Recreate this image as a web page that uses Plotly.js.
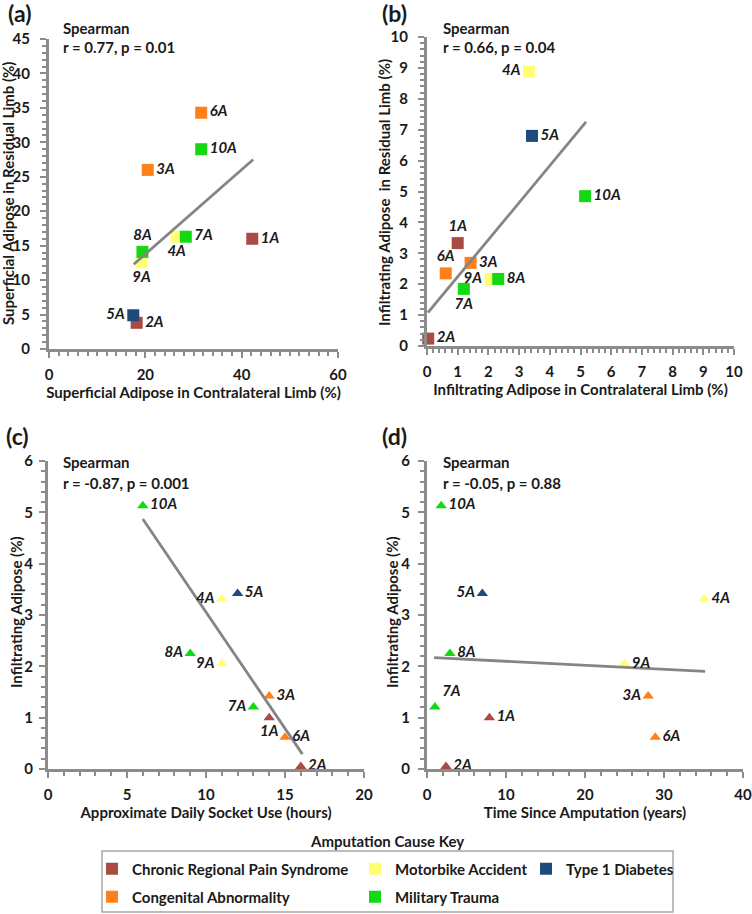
<!DOCTYPE html>
<html><head><meta charset="utf-8">
<script src="https://cdn.plot.ly/plotly-3.0.1.min.js"></script>
<style>html,body{margin:0;padding:0;background:#fff}#chart{width:752px;height:914px}</style>
</head><body><div id="chart"></div>
<script>
// ---------------- DATA ----------------
const subjects = ['1A','2A','3A','4A','5A','6A','7A','8A','9A','10A'];
const causes = ['Chronic Regional Pain Syndrome','Congenital Abnormality','Motorbike Accident','Military Trauma','Type 1 Diabetes'];
const subjectCause = ['Chronic Regional Pain Syndrome','Chronic Regional Pain Syndrome','Congenital Abnormality','Motorbike Accident','Type 1 Diabetes','Congenital Abnormality','Military Trauma','Military Trauma','Motorbike Accident','Military Trauma'];

// (a) superficial adipose (%)
const superficialContralateral = [42.2, 18.2, 20.5, 26.5, 17.5, 31.6, 28.4, 19.4, 19.2, 31.6];
const superficialResidual      = [16.0, 3.8, 26.0, 16.3, 4.9, 34.3, 16.3, 14.1, 12.6, 29.0];
// (b) infiltrating adipose (%)
const infiltratingContralateral = [1.0, 0.04, 1.42, 3.32, 3.42, 0.61, 1.2, 2.32, 2.07, 5.15];
const infiltratingResidual      = [3.33, 0.24, 2.69, 8.88, 6.80, 2.35, 1.85, 2.17, 2.17, 4.85];
// (c),(d)
const socketUseHours       = [14, 16, 14, 11, 12, 15, 13, 9, 11, 6];
const infiltratingAdipose  = [1.0, 0.05, 1.42, 3.31, 3.42, 0.62, 1.21, 2.25, 2.05, 5.13];
const yearsSinceAmputation = [7.9, 2.4, 28.0, 35.1, 7.0, 28.9, 1.0, 2.9, 25.0, 1.8];

// trend lines (end points)
const trendAx = [17.6, 42.4], trendAy = [12.3, 27.5];
const trendBx = [0.03, 5.18], trendBy = [1.08, 7.25];
const trendCx = [6.0, 16.1],  trendCy = [4.87, 0.29];
const trendDx = [0.9, 35.2],  trendDy = [2.17, 1.90];

const statsText = [
  ['Spearman', 'r = 0.77, p = 0.01'],
  ['Spearman', 'r = 0.66, p = 0.04'],
  ['Spearman', 'r = -0.87, p = 0.001'],
  ['Spearman', 'r = -0.05, p = 0.88']
];
const panelLetters = ['(a)','(b)','(c)','(d)'];
const axisTitles = [
  ['Superficial Adipose in Contralateral Limb (%)', 'Superficial Adipose in Residual Limb (%)'],
  ['Infiltrating Adipose in Contralateral Limb (%)', 'Infiltrating Adipose  in Residual Limb (%)'],
  ['Approximate Daily Socket Use (hours)', 'Infiltrating Adipose (%)'],
  ['Time Since Amputation (years)', 'Infiltrating Adipose (%)']
];
const legendTitle = 'Amputation Cause Key';

// ---------------- STYLE ----------------
const W = 752, H = 914;
const FONT = 'Lato, "Open Sans", sans-serif';
const TXT = '#1a1a1a';
const AXC = '#8c8c8c';
const causeColors = {
  'Chronic Regional Pain Syndrome': '#a94a44',
  'Congenital Abnormality': '#ff8019',
  'Motorbike Accident': '#ffff73',
  'Military Trauma': '#12d912',
  'Type 1 Diabetes': '#1f4a7c'
};
const px = v => v / W;
const py = v => 1 - v / H;

const labelPos = [
  ['middle right','middle right','middle right','bottom center','middle left','middle right','middle right','top center','bottom center','middle right'],
  ['top center','middle right','middle right','middle left','middle right','top center','bottom center','middle right','middle left','middle right'],
  ['bottom center','middle right','middle right','middle left','middle right','middle right','middle left','middle left','middle left','middle right'],
  ['middle right','middle right','middle left','middle right','middle left','middle right','top right','middle right','middle right','middle right']
];

const panels = [
  {xs: superficialContralateral, ys: superficialResidual, tx: trendAx, ty: trendAy, sym: 'square', size: 12,
   xdom: [49, 338], ydom: [39, 349], xr: [0, 60], yr: [0, 45], xd: 20, yd: 5, xm: 2, ym: 1, ysd: 7},
  {xs: infiltratingContralateral, ys: infiltratingResidual, tx: trendBx, ty: trendBy, sym: 'square', size: 12,
   xdom: [427, 734], ydom: [37, 346], xr: [0, 10], yr: [0, 10], xd: 1, yd: 1, xm: 0.2, ym: 0.2, ysd: 7},
  {xs: socketUseHours, ys: infiltratingAdipose, tx: trendCx, ty: trendCy, sym: 'triangle-up', size: 10,
   xdom: [48, 364], ydom: [461, 769], xr: [0, 20], yr: [0, 6], xd: 5, yd: 1, xm: 1, ym: 0.2, ysd: 3},
  {xs: yearsSinceAmputation, ys: infiltratingAdipose, tx: trendDx, ty: trendDy, sym: 'triangle-up', size: 10,
   xdom: [427, 743], ydom: [461, 769], xr: [0, 40], yr: [0, 6], xd: 10, yd: 1, xm: 2, ym: 0.2, ysd: 5}
];
const letterPos = [[6, 13], [380, 13], [4, 436], [380, 436]];
const statsPos = [[61, 28, 47], [441, 28, 47], [61, 462, 483], [441, 462, 483]];
const yTitlePos = [[8, 194], [384, 192], [16, 612], [392, 612]];
const legendPos = {
  'Chronic Regional Pain Syndrome': [92, 869, 'legend'],
  'Congenital Abnormality': [92, 897, 'legend2'],
  'Motorbike Accident': [355, 869, 'legend3'],
  'Military Trauma': [355, 897, 'legend4'],
  'Type 1 Diabetes': [526, 869, 'legend5']
};

const traces = [];
const layout = {
  width: W, height: H,
  margin: {l: 0, r: 0, t: 0, b: 0},
  paper_bgcolor: '#fff', plot_bgcolor: '#fff',
  font: {family: FONT, color: TXT, size: 15, weight: 'bold'},
  annotations: [], shapes: [],
  showlegend: true
};

panels.forEach((p, i) => {
  const k = i === 0 ? '' : String(i + 1);
  const xa = 'x' + k, ya = 'y' + k;
  // category markers
  causes.forEach(c => {
    const idx = subjects.map((s, j) => j).filter(j => subjectCause[j] === c);
    const lp = legendPos[c];
    traces.push({
      type: 'scatter', mode: 'markers', xaxis: xa, yaxis: ya,
      x: idx.map(j => p.xs[j]), y: idx.map(j => p.ys[j]),
      name: c, legend: lp[2], showlegend: i === 0, cliponaxis: false,
      marker: {symbol: p.sym, size: p.size, color: causeColors[c], line: {width: 0}},
      hoverinfo: 'skip'
    });
  });
  // trend line
  traces.push({
    type: 'scatter', mode: 'lines', xaxis: xa, yaxis: ya, x: p.tx, y: p.ty,
    line: {color: '#858585', width: 2.8}, showlegend: false, hoverinfo: 'skip'
  });
  // labels
  traces.push({
    type: 'scatter', mode: 'markers+text', xaxis: xa, yaxis: ya,
    x: p.xs, y: p.ys, text: subjects, textposition: labelPos[i], cliponaxis: false,
    marker: {symbol: p.sym, size: p.size, color: 'rgba(0,0,0,0)'},
    textfont: {family: FONT, size: 15, style: 'italic', weight: 'bold', color: TXT},
    showlegend: false, hoverinfo: 'skip'
  });

  const common = {
    showline: true, linecolor: AXC, linewidth: 3, mirror: false,
    showgrid: false, zeroline: false, fixedrange: true,
    ticks: 'outside', ticklen: 6, tickwidth: 2, tickcolor: AXC,
    tickfont: {family: FONT, size: 15, weight: 'bold', color: TXT},
    automargin: false
  };
  layout['xaxis' + k] = Object.assign({}, common, {
    domain: [px(p.xdom[0]), px(p.xdom[1])], range: p.xr, dtick: p.xd, tick0: 0,
    anchor: ya, ticklabelstandoff: 4,
    minor: {dtick: p.xm, tick0: 0, ticks: 'outside', ticklen: 4, tickwidth: 2, tickcolor: AXC},
    title: {text: axisTitles[i][0], standoff: 5, font: {family: FONT, size: 15, weight: 'bold', color: TXT}}
  });
  layout['yaxis' + k] = Object.assign({}, common, {
    domain: [py(p.ydom[1]), py(p.ydom[0])], range: p.yr, dtick: p.yd, tick0: 0,
    anchor: xa, ticklabelstandoff: p.ysd,
    minor: {dtick: p.ym, tick0: 0, ticks: 'outside', ticklen: 4, tickwidth: 2, tickcolor: AXC}
  });
  // y-axis title placed as rotated text
  layout.annotations.push({
    text: axisTitles[i][1], xref: 'paper', yref: 'paper', x: px(yTitlePos[i][0]), y: py(yTitlePos[i][1]),
    xanchor: 'center', yanchor: 'middle', textangle: -90, showarrow: false,
    font: {family: FONT, size: 15, weight: 'bold', color: TXT}
  });

  layout.annotations.push({
    text: panelLetters[i], xref: 'paper', yref: 'paper', x: px(letterPos[i][0]), y: py(letterPos[i][1]),
    xanchor: 'left', yanchor: 'middle', showarrow: false,
    font: {family: FONT, size: 23, weight: 'bold', color: TXT}
  });
  statsText[i].forEach((t, r) => {
    layout.annotations.push({
      text: t, xref: 'paper', yref: 'paper', x: px(statsPos[i][0]), y: py(statsPos[i][1 + r]),
      xanchor: 'left', yanchor: 'middle', showarrow: false,
      font: {family: FONT, size: 15, weight: 'bold', color: TXT}
    });
  });
});

// legends, one per cause
causes.forEach(c => {
  const lp = legendPos[c];
  layout[lp[2]] = {
    x: px(lp[0]), y: py(lp[1]), xanchor: 'left', yanchor: 'middle',
    orientation: 'v', bgcolor: 'rgba(0,0,0,0)', borderwidth: 0,
    font: {family: FONT, size: 15, weight: 'bold', color: TXT},
    itemclick: false, itemdoubleclick: false
  };
});
layout.annotations.push({
  text: legendTitle, xref: 'paper', yref: 'paper', x: px(387), y: py(841),
  xanchor: 'center', yanchor: 'middle', showarrow: false,
  font: {family: FONT, size: 15, weight: 'bold', color: TXT}
});
layout.shapes.push({
  type: 'rect', xref: 'paper', yref: 'paper', x0: px(102), x1: px(673), y0: py(912), y1: py(851),
  line: {color: '#a6a6a6', width: 1.5}, fillcolor: 'rgba(0,0,0,0)'
});

Plotly.newPlot('chart', traces, layout, {staticPlot: true, displayModeBar: false});
</script>
</body></html>
